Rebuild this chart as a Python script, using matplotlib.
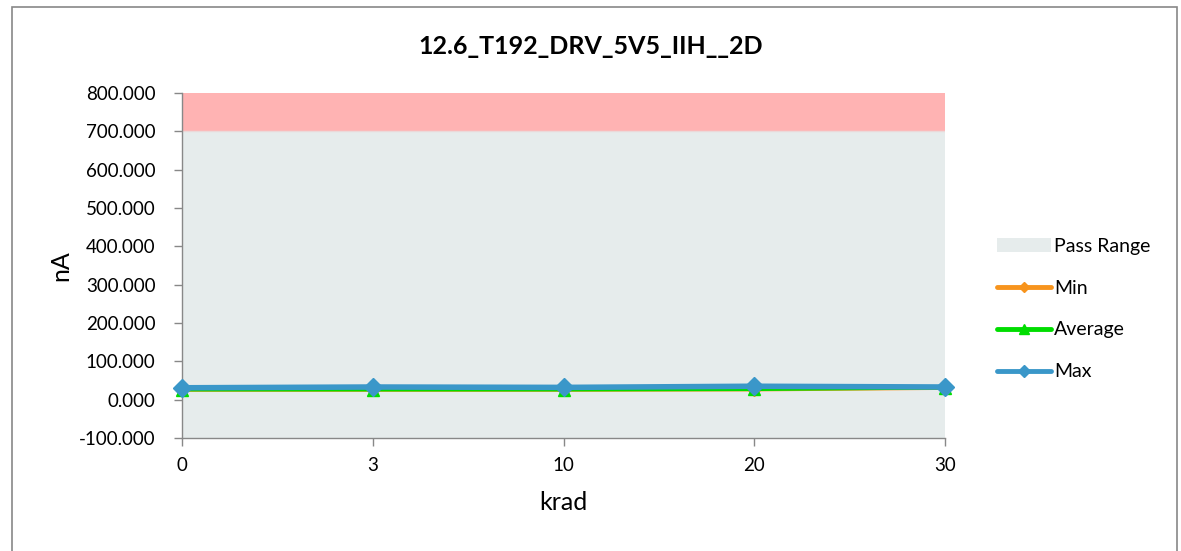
"""Recreate the 12.6_T192_DRV_5V5_IIH__2D radiation chart."""

import matplotlib
matplotlib.use("Agg")
import matplotlib.pyplot as plt
from matplotlib.patches import Rectangle, Patch
from matplotlib.lines import Line2D

plt.rcParams["font.family"] = ["Lato", "DejaVu Sans"]

TITLE = "12.6_T192_DRV_5V5_IIH__2D"
DOSES = ["0", "3", "10", "20", "30"]
MIN_VALUES = [25.0, 25.0, 25.0, 26.0, 30.0]
AVG_VALUES = [26.0, 26.0, 26.0, 27.0, 31.0]
MAX_VALUES = [31.0, 33.0, 32.0, 35.0, 33.0]
PASS_LOW = -100.0
PASS_HIGH = 700.0
Y_MIN, Y_MAX = -100.0, 800.0
Y_TICKS = [-100, 0, 100, 200, 300, 400, 500, 600, 700, 800]


def main() -> None:
    fig = plt.figure(figsize=(11.81, 5.51), dpi=100)
    ax = fig.add_axes([182 / 1181, 1 - 438 / 551, (945 - 182) / 1181, (438 - 93) / 551])

    x = list(range(len(DOSES)))
    ax.axhspan(PASS_HIGH, Y_MAX, color="#FFB3B3", lw=0, zorder=0)
    ax.axhspan(PASS_LOW, PASS_HIGH, color="#E6ECEC", lw=0, zorder=0)
    ax.axhline(PASS_HIGH, color="#EBD9D9", lw=1, zorder=0.5)

    ax.plot(x, MIN_VALUES, color="#F7941D", lw=2.5, marker="D", ms=6, zorder=3, clip_on=False)
    ax.plot(x, AVG_VALUES, color="#00DD00", lw=2.5, marker="^", ms=9, zorder=4, clip_on=False)
    ax.plot(x, MAX_VALUES, color="#3A97C9", lw=4, marker="D", ms=9, zorder=5, clip_on=False)

    ax.set_xlim(0, len(DOSES) - 1)
    ax.set_ylim(Y_MIN, Y_MAX)
    ax.set_xticks(x)
    ax.set_xticklabels(DOSES, fontsize=13.5)
    ax.set_yticks(Y_TICKS)
    ax.set_yticklabels([f"{v:.3f}" for v in Y_TICKS], fontsize=13.5)
    ax.tick_params(axis="both", color="#888888", length=6, width=1, direction="out")
    ax.tick_params(axis="x", pad=8)
    ax.tick_params(axis="y", pad=13)
    for side in ("top", "right"):
        ax.spines[side].set_visible(False)
    for side in ("left", "bottom"):
        ax.spines[side].set_color("#888888")
        ax.spines[side].set_linewidth(1)

    ax.set_xlabel("krad", fontsize=18, labelpad=12)
    ax.set_ylabel("nA", fontsize=18, labelpad=8)
    ax.yaxis.set_label_coords(-(182 - 72) / (945 - 182), 0.5)
    fig.text(0.5, 1 - 46 / 551, TITLE, ha="center", va="center",
             fontsize=18, fontweight="bold")

    handles = [
        Patch(facecolor="#E6ECEC", edgecolor="none"),
        Line2D([], [], color="#F7941D", lw=3.5, marker="D", ms=5, solid_capstyle="round"),
        Line2D([], [], color="#00DD00", lw=3.5, marker="^", ms=7, solid_capstyle="round"),
        Line2D([], [], color="#3A97C9", lw=3.5, marker="D", ms=6, solid_capstyle="round"),
    ]
    fig.legend(handles, ["Pass Range", "Min", "Average", "Max"], loc="center left",
               bbox_to_anchor=(987 / 1181, 1 - 309 / 551), frameon=False, fontsize=14,
               handlelength=2.8, handletextpad=0.15, labelspacing=1.28, borderpad=0)

    fig.patches.append(Rectangle((12 / 1181, -0.05), (1177 - 12) / 1181, 1.05 - 7 / 551,
                                 transform=fig.transFigure, fill=False,
                                 edgecolor="#888888", lw=1.2))

    fig.savefig("out.png", dpi=100)
    plt.close(fig)


if __name__ == "__main__":
    main()
